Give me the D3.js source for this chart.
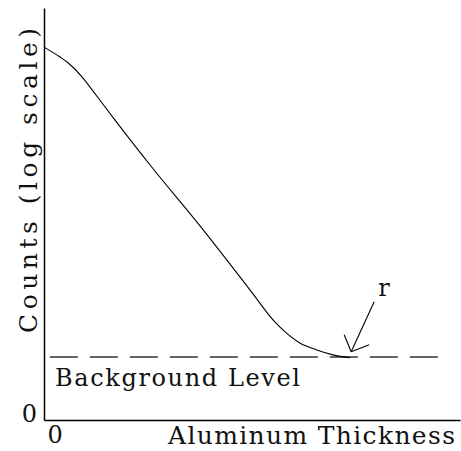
<!DOCTYPE html>
<html>
<head>
<meta charset="utf-8">
<script src="https://cdn.jsdelivr.net/npm/d3@7"></script>
<style>
  html, body { margin: 0; padding: 0; background: #fff; }
  svg { display: block; }
</style>
</head>
<body>
<svg id="chart" width="461" height="451"></svg>
<script>
// ---- Data ----
const thickness = [0, 3.85, 5.77, 9.38, 11.06, 17.07, 25.5, 37.5, 49.5, 55.5, 57.5, 61.5, 65.6, 69.5, 73.6];
const logCounts = [90.5, 88.1, 86.7, 83.0, 80.8, 72.8, 61.9, 47.1, 31.6, 23.8, 21.8, 18.7, 17.0, 15.8, 15.1];
const backgroundLevel = [15.3];
const xTickValues = [0];
const yTickValues = [0];
const xLabel = "Aluminum Thickness";
const yLabel = "Counts (log scale)";
const backgroundLabel = "Background Level";
const rangeLabel = "r";

const FONT = "DejaVu Serif";

// ---- Layout ----
const svg = d3.select("#chart");
const x = d3.scaleLinear().domain([0, 100]).range([44, 460]);
const y = d3.scaleLinear().domain([0, 100]).range([420, 8]);

function styleText(sel, size) {
  return sel.attr("font-family", FONT).style("font-family", FONT)
    .attr("font-size", size + "px").style("font-size", size + "px").attr("fill", "#111");
}

// Axes
const gx = svg.append("g").attr("transform", `translate(0,${y(0)})`)
  .call(d3.axisBottom(x).tickValues(xTickValues).tickSize(0).tickSizeOuter(0).tickFormat(d3.format("d")));
gx.attr("font-family", FONT).attr("font-size", "24px");
gx.select(".domain").attr("stroke", "#000").attr("stroke-width", 1.5);
styleText(gx.selectAll(".tick text"), 24).attr("text-anchor", "start").attr("x", 3).attr("y", 23).attr("dy", 0);

const gy = svg.append("g").attr("transform", `translate(${x(0)},0)`)
  .call(d3.axisLeft(y).tickValues(yTickValues).tickSize(0).tickSizeOuter(0).tickFormat(d3.format("d")));
gy.attr("font-family", FONT).attr("font-size", "24px");
gy.select(".domain").attr("stroke", "#000").attr("stroke-width", 1.5);
styleText(gy.selectAll(".tick text"), 24).attr("x", -7).attr("dy", 0).attr("y", 1);

// Background dashed line
svg.append("line")
  .attr("x1", x(1.4)).attr("x2", x(95.9))
  .attr("y1", y(backgroundLevel[0])).attr("y2", y(backgroundLevel[0]))
  .attr("stroke", "#666").attr("stroke-width", 2)
  .attr("stroke-dasharray", "28,12");

// Curve
const pts = thickness.map((t, i) => [t, logCounts[i]]);
svg.append("path")
  .datum(pts)
  .attr("fill", "none").attr("stroke", "#000").attr("stroke-width", 1.1)
  .attr("d", d3.line().x(d => x(d[0])).y(d => y(d[1])).curve(d3.curveMonotoneX));

// Arrow annotation pointing to the end of the curve
const last = pts[pts.length - 1];
const tipX = x(last[0]) + 1, tipY = y(last[1]) - 6;
const arrow = svg.append("g").attr("stroke", "#000").attr("stroke-width", 1.1).attr("fill", "none");
arrow.append("line").attr("x1", tipX + 23).attr("y1", tipY - 50).attr("x2", tipX).attr("y2", tipY);
arrow.append("line").attr("x1", tipX).attr("y1", tipY).attr("x2", tipX - 7).attr("y2", tipY - 17);
arrow.append("line").attr("x1", tipX).attr("y1", tipY).attr("x2", tipX + 18).attr("y2", tipY - 7);
styleText(svg.append("text"), 24).attr("x", tipX + 27).attr("y", tipY - 56).text(rangeLabel);

// Background Level label
styleText(svg.append("text"), 24).attr("x", 55).attr("y", 386)
  .attr("textLength", 245).attr("lengthAdjust", "spacing").text(backgroundLabel);

// Axis titles
styleText(svg.append("text"), 25).attr("x", 168).attr("y", 444)
  .attr("textLength", 287).attr("lengthAdjust", "spacing").text(xLabel);

styleText(svg.append("text"), 25)
  .attr("transform", "translate(37,333) rotate(-90)")
  .attr("x", 0).attr("y", 0)
  .attr("textLength", 305).attr("lengthAdjust", "spacing").text(yLabel);
</script>
</body>
</html>
